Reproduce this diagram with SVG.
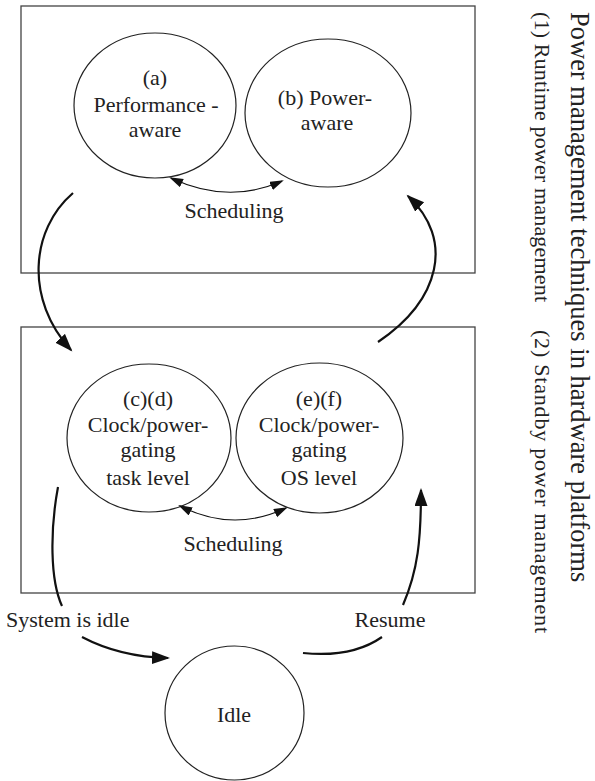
<svg xmlns="http://www.w3.org/2000/svg" width="595" height="781" viewBox="0 0 595 781">
<style>
text{font-family:"Liberation Serif","Times New Roman",serif;fill:#222;}
.lbl{font-size:22px;text-anchor:middle;}
.box{fill:none;stroke:#444;stroke-width:1.3;}
.node{fill:#fff;stroke:#222;stroke-width:1.2;}
.big{fill:none;stroke:#111;stroke-width:2.2;}
.small{fill:none;stroke:#111;stroke-width:1.1;}
</style>
<defs>
<marker id="ah" markerUnits="userSpaceOnUse" markerWidth="20" markerHeight="14" refX="16" refY="6.5" orient="auto">
<path d="M0,0 L18,6.5 L0,13 z" fill="#111"/>
</marker>
<marker id="as" markerUnits="userSpaceOnUse" markerWidth="16" markerHeight="10" refX="12" refY="4.5" orient="auto-start-reverse">
<path d="M0,0 L14,4.5 L0,9 z" fill="#111"/>
</marker>
</defs>
<rect class="box" x="21" y="6" width="454" height="267"/>
<rect class="box" x="21" y="327" width="454" height="266"/>
<g id="title">
<text x="0" y="0" transform="translate(571,12) rotate(90)" font-size="26.5">Power management techniques in hardware platforms</text>
<text x="0" y="0" transform="translate(535,12) rotate(90)" font-size="22" textLength="290" lengthAdjust="spacing">(1) Runtime power management</text>
<text x="0" y="0" transform="translate(535,330) rotate(90)" font-size="22" textLength="303" lengthAdjust="spacing">(2) Standby power management</text>
</g>
<g id="node-a">
<ellipse class="node" cx="155" cy="105.5" rx="81" ry="72.5"/>
<text class="lbl" x="155" y="85">(a)</text>
<text class="lbl" x="156" y="112">Performance -</text>
<text class="lbl" x="155" y="137">aware</text>
</g>
<g id="node-b">
<ellipse class="node" cx="328" cy="113" rx="83" ry="74"/>
<text class="lbl" x="325" y="105">(b) Power-</text>
<text class="lbl" x="327" y="130">aware</text>
</g>
<g id="node-cd">
<ellipse class="node" cx="149" cy="438" rx="82" ry="74"/>
<text class="lbl" x="148" y="406">(c)(d)</text>
<text class="lbl" x="148" y="432">Clock/power-</text>
<text class="lbl" x="148" y="457">gating</text>
<text class="lbl" x="148" y="485">task level</text>
</g>
<g id="node-ef">
<ellipse class="node" cx="319.5" cy="438" rx="83.5" ry="75"/>
<text class="lbl" x="319" y="406">(e)(f)</text>
<text class="lbl" x="319" y="432">Clock/power-</text>
<text class="lbl" x="319" y="457">gating</text>
<text class="lbl" x="319" y="485">OS level</text>
</g>
<g id="node-idle">
<ellipse class="node" cx="234.5" cy="713" rx="69.5" ry="67"/>
<text class="lbl" x="234" y="722">Idle</text>
</g>
<g id="connectors">
<path class="big" d="M73,193 C30,230 25,300 71,350" marker-end="url(#ah)"/>
<path class="big" d="M378,342 C440,300 455,240 408,196" marker-end="url(#ah)"/>
<path class="big" d="M58,487 C50,530 50,580 62,606"/>
<path class="big" d="M82,637 Q120,657 168,658" marker-end="url(#ah)"/>
<path class="big" d="M382,637 Q352,658 303,653"/>
<path class="big" d="M403,605 C418,570 421,540 421,490" marker-end="url(#ah)"/>
<path class="small" d="M171,178 Q228,205 282,181" marker-start="url(#as)" marker-end="url(#as)"/>
<path class="small" d="M180,506 Q233,533 286,508" marker-start="url(#as)" marker-end="url(#as)"/>
</g>
<g id="labels">
<text class="lbl" x="234" y="218">Scheduling</text>
<text class="lbl" x="233" y="551">Scheduling</text>
<text x="6" y="627" font-size="22">System is idle</text>
<text class="lbl" x="390" y="627">Resume</text>
</g>
</svg>
